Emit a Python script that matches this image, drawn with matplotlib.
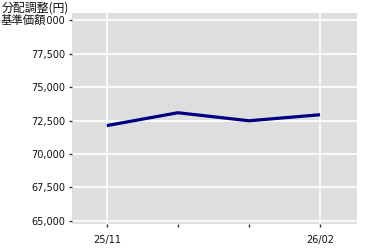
import matplotlib
matplotlib.use("Agg", force=True)
import matplotlib.pyplot as plt
from matplotlib.ticker import FuncFormatter

plt.rcParams['font.family'] = ['DejaVu Sans', 'Noto Sans CJK JP']

# monthly values
months = ["25/11", "25/12", "26/01", "26/02"]
nav = [72120, 73080, 72480, 72930]
tick_labels = ["25/11", "", "", "26/02"]
y_ticks = [65000, 67500, 70000, 72500, 75000, 77500, 80000]
title_lines = ["分配調整(円)", "基準価額"]

fig = plt.figure(figsize=(3.8, 2.5), dpi=100)
ax = fig.add_axes([72 / 380, 1 - 224 / 250, 285 / 380, 211.5 / 250])
ax.set_facecolor('#dedede')

x = list(range(len(months)))
ax.plot(x, nav, color='#000080', linewidth=2.3, solid_capstyle='butt', zorder=3)

ax.set_xlim(-0.49, 3.52)
ax.set_ylim(64776, 80560)
ax.set_xticks(x)
ax.set_xticklabels(tick_labels)
ax.set_yticks(y_ticks)
ax.yaxis.set_major_formatter(FuncFormatter(lambda v, p: f"{int(v):,}"))

# white grid only on labelled months
ax.yaxis.grid(True, color='white', linewidth=1.2)
for i in (0, 3):
    ax.axvline(x[i], color='white', linewidth=1.2, zorder=1)
ax.set_axisbelow(True)

for s in ax.spines.values():
    s.set_visible(False)
ax.tick_params(axis='both', length=2, width=1, color='#333333', labelsize=7,
               labelcolor='#111111', pad=3)
ax.tick_params(axis='x', pad=6)

# title: second line covers the front of the top y label, like the original
cjk = ['Noto Sans CJK JP', 'DejaVu Sans']
fig.text(2 / 380, 1 - 8.5 / 250, title_lines[0], ha='left', va='center', fontsize=8.6,
         family=cjk, color='#111111', zorder=5)
fig.text(1 / 380, 1 - 20 / 250, title_lines[1], ha='left', va='center', fontsize=8.2,
         family=cjk, color='#111111', zorder=5,
         bbox=dict(facecolor='white', edgecolor='none', pad=0.2))

fig.savefig("out.png", dpi=100)
